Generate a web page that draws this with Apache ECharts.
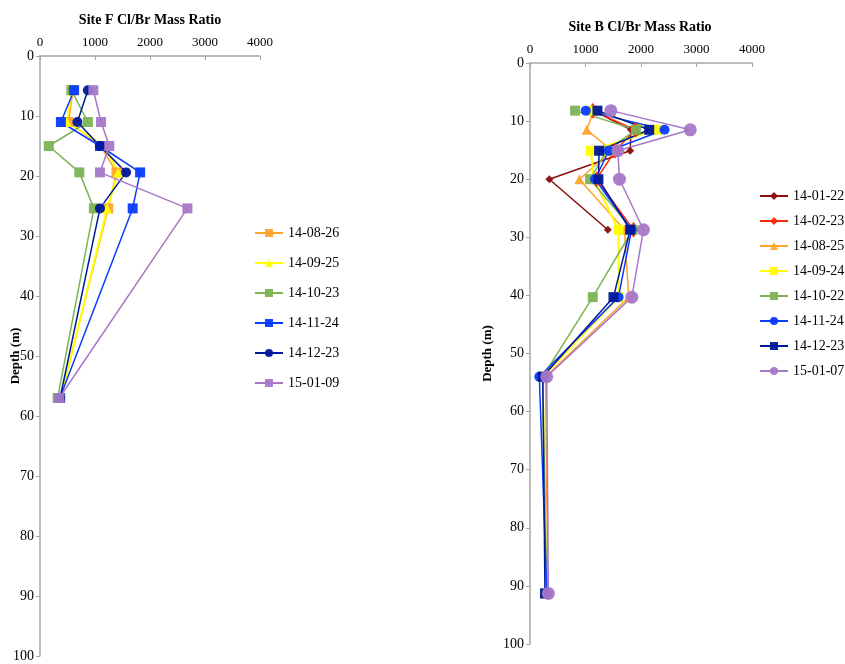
<!DOCTYPE html>
<html><head><meta charset="utf-8">
<script src="https://cdn.jsdelivr.net/npm/echarts@6/dist/echarts.min.js"></script>
<style>html,body{margin:0;padding:0;background:#fff}
#l{position:absolute;left:0;top:0;width:422px;height:664px}
#r{position:absolute;left:422px;top:0;width:423px;height:664px}</style>
</head><body><div id="l"></div><div id="r"></div>
<script>
// ---- Site F ----
const fTitle='Site F Cl/Br Mass Ratio';
const fDepths=[5.7,11,15,19.4,25.4,57];
const fNames=['14-08-26','14-09-25','14-10-23','14-11-24','14-12-23','15-01-09'];
const f0826=[600,520,1100,1390,1240,370];
const f0925=[580,490,1170,1420,1220,380];
const f1023=[570,870,160,715,980,320];
const f1124=[620,380,1090,1820,1685,360];
const f1223=[870,680,1090,1565,1090,365];
const f0109=[970,1110,1260,1090,2680,350];
// ---- Site B ----
const bTitle='Site B Cl/Br Mass Ratio';
const bDepths=[8.2,11.5,15.1,20,28.7,40.3,54,91.3];
const bNames=['14-01-22','14-02-23','14-08-25','14-09-24','14-10-22','14-11-24','14-12-23','15-01-07'];
const b0122=[1140,1820,1805,348,1402,null,null,null];
const b0223=[1131,1900,1534,1200,1865,null,null,null];
const b0825=[1150,1023,1480,890,1700,1780,280,320];
const b0924=[1113,2274,1095,1150,1594,1600,230,300];
const b1022=[812,1908,1384,1083,1850,1131,230,300];
const b1124=[1005,2424,1420,1173,1830,1594,168,305];
const b1223=[1215,2148,1245,1233,1805,1504,230,270];
const b0107=[1457,2888,1583,1612,2045,1835,301,331];
// tick settings
const xTicks=[0,1000,2000,3000,4000];
const yTicks=[0,10,20,30,40,50,60,70,80,90,100];

const FONT='Liberation Serif';
function pairs(vals,depths){return vals.map((v,i)=>v==null?null:[v,depths[i]]);}
function mkSeries(name,vals,depths,color,symbol,size,lw){
  return {type:'line',name:name,data:pairs(vals,depths),connectNulls:false,
    symbol:symbol,symbolSize:size,showSymbol:true,
    lineStyle:{color:color,width:lw||1.5},itemStyle:{color:color,opacity:0.95},
    emphasis:{disabled:true},animation:false};
}
function axes(grid){
  return {
    xAxis:{type:'value',position:'top',min:xTicks[0],max:xTicks[xTicks.length-1],interval:1000,
      axisLine:{show:true,onZero:false,lineStyle:{color:'#A6A6A6',width:1.5}},
      axisTick:{show:true,inside:true,length:4,lineStyle:{color:'#A6A6A6'}},
      axisLabel:{color:'#000',fontFamily:FONT,fontSize:13,margin:7,formatter:v=>String(v)},
      splitLine:{show:false}},
    yAxis:{type:'value',inverse:true,min:yTicks[0],max:yTicks[yTicks.length-1],interval:10,
      name:'Depth (m)',nameLocation:'middle',nameRotate:90,nameGap:grid.nameGap,nameMoveOverlap:false,
      nameTextStyle:{color:'#000',fontFamily:FONT,fontSize:13,fontWeight:'bold'},
      axisLine:{show:true,onZero:false,lineStyle:{color:'#A6A6A6',width:1.5}},
      axisTick:{show:true,length:4,lineStyle:{color:'#A6A6A6'}},
      axisLabel:{color:'#000',fontFamily:FONT,fontSize:14,margin:6,formatter:v=>String(v)},
      splitLine:{show:false}}
  };
}
// Left chart
const cl=echarts.init(document.getElementById('l'),null,{renderer:'canvas'});
const lAx=axes({nameGap:18});
cl.setOption({
  animation:false,
  grid:{left:40,top:56,width:220,height:600,containLabel:false,outerBoundsMode:'none'},
  xAxis:lAx.xAxis,yAxis:lAx.yAxis,
  graphic:[{type:'text',x:150,y:20,style:{text:fTitle,fontFamily:FONT,fontSize:14,fontWeight:'bold',fill:'#000',textAlign:'center',textVerticalAlign:'middle'}}],
  legend:{orient:'vertical',left:249,top:220,itemWidth:28,itemHeight:10,itemGap:14,
    textStyle:{fontFamily:FONT,fontSize:14,color:'#000',lineHeight:16},data:fNames},
  series:[
    mkSeries(fNames[0],f0826,fDepths,'#FFA42E','rect',10),
    mkSeries(fNames[1],f0925,fDepths,'#FFFF00','triangle',10,2),
    mkSeries(fNames[2],f1023,fDepths,'#7CB456','rect',10),
    mkSeries(fNames[3],f1124,fDepths,'#0A3BFF','rect',10),
    mkSeries(fNames[4],f1223,fDepths,'#00189A','circle',10),
    mkSeries(fNames[5],f0109,fDepths,'#A678C8','rect',10)
  ]
});
// Right chart
const cr=echarts.init(document.getElementById('r'),null,{renderer:'canvas'});
const rAx=axes({nameGap:36});
cr.setOption({
  animation:false,
  grid:{left:108,top:63,width:222,height:581,containLabel:false,outerBoundsMode:'none'},
  xAxis:rAx.xAxis,yAxis:rAx.yAxis,
  graphic:[{type:'text',x:218,y:27,style:{text:bTitle,fontFamily:FONT,fontSize:14,fontWeight:'bold',fill:'#000',textAlign:'center',textVerticalAlign:'middle'}}],
  legend:{orient:'vertical',left:332,top:183,itemWidth:28,itemHeight:10,itemGap:9,
    textStyle:{fontFamily:FONT,fontSize:14,color:'#000',lineHeight:16},data:bNames},
  series:[
    mkSeries(bNames[0],b0122,bDepths,'#8B0E0E','diamond',8),
    mkSeries(bNames[1],b0223,bDepths,'#FF2A0A','diamond',[11,16]),
    mkSeries(bNames[2],b0825,bDepths,'#FFA42E','triangle',10),
    mkSeries(bNames[3],b0924,bDepths,'#FFFF00','rect',10,2),
    mkSeries(bNames[4],b1022,bDepths,'#7CB456','rect',10),
    mkSeries(bNames[5],b1124,bDepths,'#0A3BFF','circle',10),
    mkSeries(bNames[6],b1223,bDepths,'#00189A','rect',10),
    mkSeries(bNames[7],b0107,bDepths,'#A678C8','circle',13)
  ]
});
</script></body></html>
